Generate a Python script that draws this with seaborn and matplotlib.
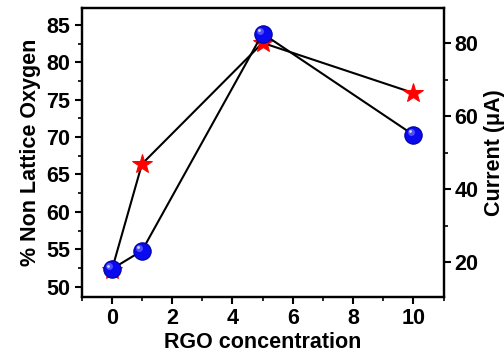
import numpy as np
import pandas as pd
import seaborn as sns
import matplotlib
matplotlib.use("Agg")
import matplotlib.pyplot as plt
from matplotlib.ticker import MultipleLocator
from matplotlib.transforms import offset_copy

# RGO loading levels
rgo = [0, 1, 5, 10]
# % non lattice oxygen (left axis, stars)
non_lattice_oxygen = [52.2, 66.4, 82.6, 75.9]
# current in microamps (right axis, spheres)
current_uA = [18.2, 23.2, 82.6, 54.9]

x_ticks = [0, 2, 4, 6, 8, 10]
left_ticks = [50, 55, 60, 65, 70, 75, 80, 85]
right_ticks = [20, 40, 60, 80]

sns.set_theme(style="ticks")
plt.rcParams["font.family"] = ["Liberation Sans", "DejaVu Sans"]
plt.rcParams["font.weight"] = "bold"
plt.rcParams["text.color"] = "black"
plt.rcParams["axes.labelcolor"] = "black"
plt.rcParams["xtick.color"] = "black"
plt.rcParams["ytick.color"] = "black"

df_o = pd.DataFrame({"rgo": rgo, "val": non_lattice_oxygen})
df_c = pd.DataFrame({"rgo": rgo, "val": current_uA})

fig = plt.figure(figsize=(5.04, 3.62), dpi=100)
ax = fig.add_axes([0.162, 0.179, 0.718, 0.799])
ax2 = ax.twinx()

sns.lineplot(data=df_o, x="rgo", y="val", ax=ax, color="black", lw=1.5,
             marker="*", markersize=15, markerfacecolor="red",
             markeredgecolor="red", errorbar=None)
sns.lineplot(data=df_c, x="rgo", y="val", ax=ax2, color="black", lw=1.5,
             marker="o", markersize=12.5, markerfacecolor="#0a0af0",
             markeredgecolor="#0000a0", markeredgewidth=0.8, errorbar=None)
# sphere highlight
hl = offset_copy(ax2.transData, fig=fig, x=-2.0, y=2.0, units="points")
ax2.plot(rgo, current_uA, ls="none", marker="o", markersize=5,
         markerfacecolor="#6060ff", markeredgecolor="none", alpha=0.8,
         transform=hl)
hl2 = offset_copy(ax2.transData, fig=fig, x=-2.5, y=2.5, units="points")
ax2.plot(rgo, current_uA, ls="none", marker="o", markersize=2,
         markerfacecolor="#d8d8ff", markeredgecolor="none",
         transform=hl2)

ax.set_xlim(-1, 11)
ax.set_ylim(48.58, 87.27)
ax2.set_ylim(10.5, 89.6)

ax.set_xticks(x_ticks)
ax.set_yticks(left_ticks)
ax2.set_yticks(right_ticks)
ax.xaxis.set_minor_locator(MultipleLocator(1))
ax.yaxis.set_minor_locator(MultipleLocator(2.5))
ax2.yaxis.set_minor_locator(MultipleLocator(10))

fs = 15.5
ax.set_xlabel("RGO concentration", fontsize=fs, fontweight="bold", labelpad=2)
ax.set_ylabel("% Non Lattice Oxygen", fontsize=fs, fontweight="bold", labelpad=4)
ax2.set_ylabel("Current (μA)", fontsize=fs, fontweight="bold", labelpad=4)

for a in (ax, ax2):
    for s in a.spines.values():
        s.set_linewidth(1.6)
        s.set_color("black")
    a.tick_params(which="major", direction="out", length=5, width=1.5,
                  labelsize=fs, color="black", labelcolor="black", pad=3)
    a.tick_params(which="minor", direction="out", length=3, width=1.2,
                  color="black")
    for lab in a.get_xticklabels() + a.get_yticklabels():
        lab.set_fontweight("bold")

ax.tick_params(axis="y", which="both", right=False)
ax.tick_params(axis="x", which="both", top=False)
ax2.tick_params(axis="y", which="both", left=False, right=True)
ax.grid(False)
ax2.grid(False)

fig.savefig("out.png", dpi=100)
